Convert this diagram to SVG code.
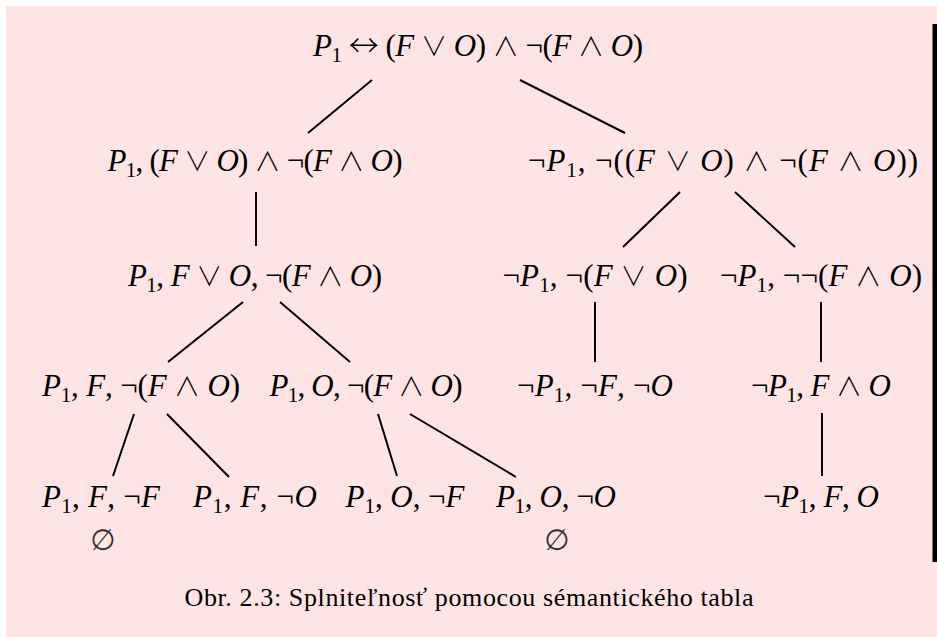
<svg xmlns="http://www.w3.org/2000/svg" width="937" height="637" viewBox="0 0 937 637">
<style>
.m{font-family:"Liberation Serif","DejaVu Serif",serif;font-size:31px;fill:#000}
.i{font-style:italic}
.s{font-size:21px}
.o{font-family:"Noto Sans CJK JP","DejaVu Sans",sans-serif;font-weight:300;font-size:26px}
.a{font-family:"Noto Sans CJK JP","DejaVu Sans",sans-serif;font-weight:300;font-size:30px}
.cap{font-family:"Liberation Serif","DejaVu Serif",serif;font-size:26px;fill:#000}
.e{font-family:"DejaVu Sans",sans-serif;font-size:29px;fill:#333}
.c line{stroke:#000;stroke-width:2;stroke-linecap:butt}
</style>
<rect x="6" y="6" width="931" height="631" fill="#fee4e4"/>
<rect x="932.5" y="24" width="4.5" height="538" fill="#000"/>
<g class="c" id="connectors">
<line x1="372" y1="80" x2="308" y2="133"/>
<line x1="520" y1="80" x2="625" y2="133"/>
<line x1="256" y1="192" x2="256" y2="246"/>
<line x1="680" y1="192" x2="623" y2="247"/>
<line x1="735" y1="192" x2="795" y2="247"/>
<line x1="243" y1="302" x2="168" y2="362"/>
<line x1="280" y1="302" x2="350" y2="362"/>
<line x1="595" y1="302" x2="595" y2="362"/>
<line x1="821" y1="302" x2="821" y2="362"/>
<line x1="134" y1="414" x2="113" y2="476"/>
<line x1="167" y1="414" x2="229" y2="477"/>
<line x1="378" y1="414" x2="397" y2="476"/>
<line x1="410" y1="414" x2="516" y2="477"/>
<line x1="822" y1="413" x2="822" y2="476"/>
</g>
<g id="n0"><text class="m" x="478" y="56" text-anchor="middle" textLength="330" lengthAdjust="spacing"><tspan class="i">P</tspan><tspan class="s" dy="6">1</tspan><tspan dy="-6"> </tspan><tspan class="a">↔</tspan> (<tspan class="i">F</tspan> <tspan class="o">∨</tspan> <tspan class="i">O</tspan>) <tspan class="o">∧</tspan> ¬(<tspan class="i">F</tspan> <tspan class="o">∧</tspan> <tspan class="i">O</tspan>)</text></g>
<g id="n1"><text class="m" x="255" y="171" text-anchor="middle" textLength="295" lengthAdjust="spacing"><tspan class="i">P</tspan><tspan class="s" dy="6">1</tspan><tspan dy="-6">, (</tspan><tspan class="i">F</tspan> <tspan class="o">∨</tspan> <tspan class="i">O</tspan>) <tspan class="o">∧</tspan> ¬(<tspan class="i">F</tspan> <tspan class="o">∧</tspan> <tspan class="i">O</tspan>)</text></g>
<g id="n2"><text class="m" x="723" y="171" text-anchor="middle" textLength="390" lengthAdjust="spacing">¬<tspan class="i">P</tspan><tspan class="s" dy="6">1</tspan><tspan dy="-6">, ¬((</tspan><tspan class="i">F</tspan> <tspan class="o">∨</tspan> <tspan class="i">O</tspan>) <tspan class="o">∧</tspan> ¬(<tspan class="i">F</tspan> <tspan class="o">∧</tspan> <tspan class="i">O</tspan>))</text></g>
<g id="n3"><text class="m" x="255" y="286" text-anchor="middle" textLength="254" lengthAdjust="spacing"><tspan class="i">P</tspan><tspan class="s" dy="6">1</tspan><tspan dy="-6">, </tspan><tspan class="i">F</tspan> <tspan class="o">∨</tspan> <tspan class="i">O</tspan>, ¬(<tspan class="i">F</tspan> <tspan class="o">∧</tspan> <tspan class="i">O</tspan>)</text></g>
<g id="n4"><text class="m" x="595" y="286" text-anchor="middle" textLength="185" lengthAdjust="spacing">¬<tspan class="i">P</tspan><tspan class="s" dy="6">1</tspan><tspan dy="-6">, ¬(</tspan><tspan class="i">F</tspan> <tspan class="o">∨</tspan> <tspan class="i">O</tspan>)</text></g>
<g id="n5"><text class="m" x="821" y="286" text-anchor="middle" textLength="202" lengthAdjust="spacing">¬<tspan class="i">P</tspan><tspan class="s" dy="6">1</tspan><tspan dy="-6">, ¬¬(</tspan><tspan class="i">F</tspan> <tspan class="o">∧</tspan> <tspan class="i">O</tspan>)</text></g>
<g id="n6"><text class="m" x="141" y="396" text-anchor="middle" textLength="198" lengthAdjust="spacing"><tspan class="i">P</tspan><tspan class="s" dy="6">1</tspan><tspan dy="-6">, </tspan><tspan class="i">F</tspan>, ¬(<tspan class="i">F</tspan> <tspan class="o">∧</tspan> <tspan class="i">O</tspan>)</text></g>
<g id="n7"><text class="m" x="366" y="396" text-anchor="middle" textLength="193" lengthAdjust="spacing"><tspan class="i">P</tspan><tspan class="s" dy="6">1</tspan><tspan dy="-6">, </tspan><tspan class="i">O</tspan>, ¬(<tspan class="i">F</tspan> <tspan class="o">∧</tspan> <tspan class="i">O</tspan>)</text></g>
<g id="n8"><text class="m" x="595" y="396" text-anchor="middle" textLength="156" lengthAdjust="spacing">¬<tspan class="i">P</tspan><tspan class="s" dy="6">1</tspan><tspan dy="-6">, ¬</tspan><tspan class="i">F</tspan>, ¬<tspan class="i">O</tspan></text></g>
<g id="n9"><text class="m" x="821" y="396" text-anchor="middle" textLength="140" lengthAdjust="spacing">¬<tspan class="i">P</tspan><tspan class="s" dy="6">1</tspan><tspan dy="-6">, </tspan><tspan class="i">F</tspan> <tspan class="o">∧</tspan> <tspan class="i">O</tspan></text></g>
<g id="n10"><text class="m" x="101" y="507" text-anchor="middle" textLength="118" lengthAdjust="spacing"><tspan class="i">P</tspan><tspan class="s" dy="6">1</tspan><tspan dy="-6">, </tspan><tspan class="i">F</tspan>, ¬<tspan class="i">F</tspan></text><text class="e" x="103" y="550" text-anchor="middle">∅</text></g>
<g id="n11"><text class="m" x="255" y="507" text-anchor="middle" textLength="124" lengthAdjust="spacing"><tspan class="i">P</tspan><tspan class="s" dy="6">1</tspan><tspan dy="-6">, </tspan><tspan class="i">F</tspan>, ¬<tspan class="i">O</tspan></text></g>
<g id="n12"><text class="m" x="405" y="507" text-anchor="middle" textLength="119" lengthAdjust="spacing"><tspan class="i">P</tspan><tspan class="s" dy="6">1</tspan><tspan dy="-6">, </tspan><tspan class="i">O</tspan>, ¬<tspan class="i">F</tspan></text></g>
<g id="n13"><text class="m" x="556" y="507" text-anchor="middle" textLength="120" lengthAdjust="spacing"><tspan class="i">P</tspan><tspan class="s" dy="6">1</tspan><tspan dy="-6">, </tspan><tspan class="i">O</tspan>, ¬<tspan class="i">O</tspan></text><text class="e" x="557" y="550" text-anchor="middle">∅</text></g>
<g id="n14"><text class="m" x="821" y="507" text-anchor="middle" textLength="116" lengthAdjust="spacing">¬<tspan class="i">P</tspan><tspan class="s" dy="6">1</tspan><tspan dy="-6">, </tspan><tspan class="i">F</tspan>, <tspan class="i">O</tspan></text></g>
<text class="cap" x="469" y="606" text-anchor="middle" textLength="569" lengthAdjust="spacing">Obr. 2.3: Splniteľnosť pomocou sémantického tabla</text>
</svg>
